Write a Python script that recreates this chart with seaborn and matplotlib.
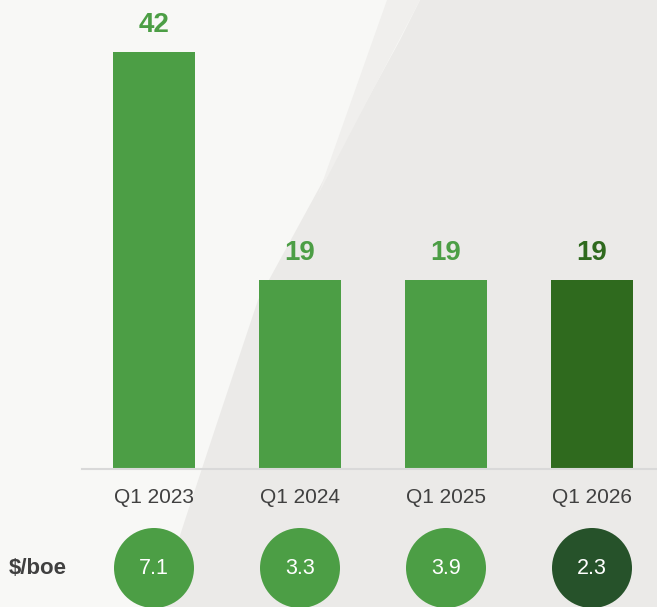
import matplotlib
matplotlib.use("Agg")
import matplotlib.pyplot as plt
from matplotlib.patches import Polygon
import seaborn as sns
import pandas as pd

# data
quarters = ["Q1 2023", "Q1 2024", "Q1 2025", "Q1 2026"]
values = [42, 19, 19, 19]
per_boe = ["7.1", "3.3", "3.9", "2.3"]

green = "#4c9e45"
dark_green = "#2f6a1e"
circle_dark = "#26522a"
bar_colors = [green, green, green, dark_green]
circle_colors = [green, green, green, circle_dark]
text_gray = "#404040"

sns.set_theme(style="white")
plt.rcParams["font.family"] = ["Liberation Sans", "DejaVu Sans"]

W, H = 657, 607
fig = plt.figure(figsize=(W / 100, H / 100), dpi=100)
fig.patch.set_facecolor("#ebeae8")

# background shapes (pixel coords, origin top-left)
def px(pts):
    return [(x / W, 1 - y / H) for x, y in pts]

fig.add_artist(Polygon(px([(0, 0), (420, 0), (400, 40), (258, 300), (218, 420),
                           (185, 520), (157, 607), (0, 607)]),
                       closed=True, transform=fig.transFigure,
                       facecolor="#f8f8f6", edgecolor="none", zorder=0))
fig.add_artist(Polygon(px([(387, 0), (420, 0), (318, 195)]),
                       closed=True, transform=fig.transFigure,
                       facecolor="#f0efed", edgecolor="none", zorder=0))

# main bar axes
x_left, x_right = 82, 657
base_y, top_y = 469, 52
ax = fig.add_axes([x_left / W, 1 - base_y / H, (x_right - x_left) / W, (base_y - top_y) / H])
ax.set_facecolor("none")

df = pd.DataFrame({"quarter": quarters, "value": values})
sns.barplot(data=df, x="quarter", y="value", hue="quarter", palette=bar_colors,
            width=0.555, legend=False, ax=ax, saturation=1, linewidth=0)

spacing = 146
ax.set_xlim(-(154 - x_left) / spacing, 3 + (x_right - 592) / spacing)
ax.set_ylim(0, 42)

for i, v in enumerate(values):
    ax.annotate(str(v), xy=(i, v), xytext=(0, 14.4), textcoords="offset points",
                ha="center", va="baseline", fontsize=20, fontweight="bold",
                color=bar_colors[i], annotation_clip=False)

for s in ["top", "right", "left"]:
    ax.spines[s].set_visible(False)
ax.spines["bottom"].set_color("#d9d9d9")
ax.spines["bottom"].set_linewidth(1.5)
ax.set_yticks([])
ax.set_xlabel("")
ax.set_ylabel("")
ax.tick_params(axis="x", length=0, pad=14, labelsize=15, labelcolor=text_gray)

# circles row
cy = 568
ax2 = fig.add_axes([x_left / W, 0, (x_right - x_left) / W, 2 * (H - cy) / H])
ax2.set_facecolor("none")
ax2.set_axis_off()
cdf = pd.DataFrame({"x": range(len(quarters)), "y": [0] * len(quarters), "q": quarters})
sns.scatterplot(data=cdf, x="x", y="y", hue="q", palette=circle_colors, s=57.6 ** 2,
                linewidth=0, legend=False, ax=ax2, clip_on=False)
ax2.set_xlim(ax.get_xlim())
ax2.set_ylim(-1, 1)
for i, t in enumerate(per_boe):
    ax2.text(i, 0, t, ha="center", va="center", fontsize=15.5, color="white")

fig.text(9 / W, 1 - cy / H, "$/boe", ha="left", va="center", fontsize=16,
         fontweight="bold", color=text_gray)

fig.savefig("out.png", dpi=100, facecolor=fig.get_facecolor())
